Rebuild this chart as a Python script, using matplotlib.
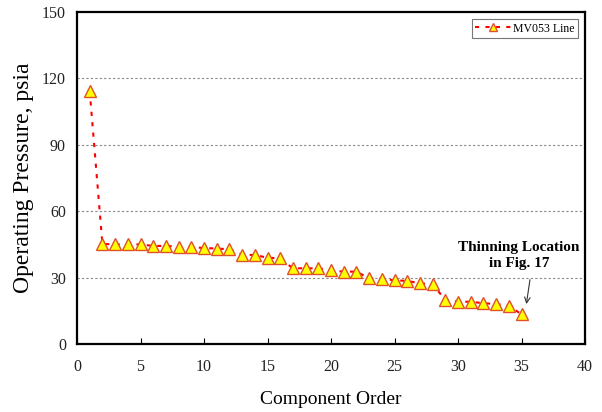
import matplotlib
matplotlib.use("Agg")
import matplotlib.pyplot as plt

component_order = list(range(1, 36))
pressure = [114.3, 45.2, 45.0, 45.0, 45.0, 44.3, 44.3, 44.0, 43.7, 43.4,
            43.1, 42.8, 40.3, 40.2, 39.0, 38.7, 34.2, 34.2, 34.2, 33.3,
            32.7, 32.7, 29.7, 29.4, 28.8, 28.5, 27.4, 27.0, 19.9, 19.1,
            19.1, 18.4, 18.1, 17.3, 13.4]
x_ticks = [0, 5, 10, 15, 20, 25, 30, 35, 40]
y_ticks = [0, 30, 60, 90, 120, 150]
series_label = "MV053 Line"
annotation_text = "Thinning Location\nin Fig. 17"

plt.rcParams['font.family'] = ['Liberation Serif', 'DejaVu Serif']

fig = plt.figure(figsize=(6.02, 4.12), dpi=100)
ax = fig.add_axes([77/602, 1-344/412, (585-77)/602, (344-12)/412])

ax.plot(component_order, pressure, color='#FF0000', lw=1.5, dashes=(2, 3),
        marker='^', markersize=8.5, markerfacecolor='#FFFF00',
        markeredgecolor='#E0502A', markeredgewidth=1.0, label=series_label,
        zorder=3)

ax.set_xlim(0, 40)
ax.set_ylim(0, 150)
ax.set_xticks(x_ticks)
ax.set_yticks(y_ticks)
for yv in y_ticks[1:-1]:
    ax.axhline(yv, color='#888888', lw=0.8, ls=(0, (2, 2)), zorder=1)

ax.tick_params(axis='x', direction='in', length=4, width=0.8, labelsize=11.5,
               pad=11, labelcolor='#222222')
ax.tick_params(axis='y', direction='in', length=0, labelsize=11.5, pad=8,
               labelcolor='#222222')
for s in ax.spines.values():
    s.set_linewidth(1.6)
    s.set_color('black')

ax.set_xlabel("Component Order", fontsize=14, labelpad=11)
ax.set_ylabel("Operating Pressure, psia", fontsize=17, labelpad=6)

leg = ax.legend(loc='upper right', fontsize=8.5, frameon=True, fancybox=False,
                borderaxespad=0.6, handlelength=3.0, borderpad=0.3,
                handletextpad=0.2, markerscale=0.75)
leg.get_frame().set_edgecolor('#555555')
leg.get_frame().set_linewidth(0.8)

ax.text(34.8, 39.8, annotation_text, ha='center', va='center',
        fontsize=11, fontweight='bold', linespacing=1.3)
ax.annotate('', xy=(35.35, 16.8), xytext=(35.7, 30.3),
            arrowprops=dict(arrowstyle='->', color='#333333', lw=0.8))

fig.savefig("out.png", dpi=100)
